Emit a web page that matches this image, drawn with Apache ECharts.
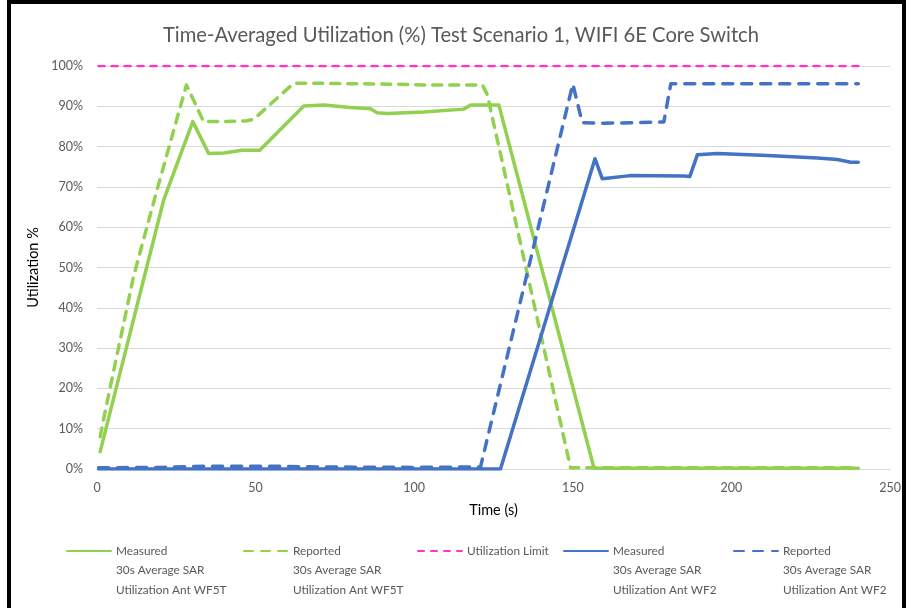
<!DOCTYPE html>
<html>
<head>
<meta charset="utf-8">
<script src="https://cdn.jsdelivr.net/npm/echarts@6/dist/echarts.min.js"></script>
<style>
html,body{margin:0;padding:0;background:#fff;}
#chart{position:absolute;left:0;top:0;width:906px;height:608px;}
#frame{position:absolute;left:7px;top:0;width:899px;height:700px;border:4px solid #000;box-sizing:border-box;pointer-events:none;}
</style>
</head>
<body>
<div id="chart"></div>
<div id="frame"></div>
<script>
// ---- data ----
const xTicks = [0, 50, 100, 150, 200, 250];
const yTicks = [0, 10, 20, 30, 40, 50, 60, 70, 80, 90, 100];

const seriesNames = [
  'Measured\n30s Average SAR\nUtilization Ant WF5T',
  'Reported\n30s Average SAR\nUtilization Ant WF5T',
  'Utilization Limit',
  'Measured\n30s Average SAR\nUtilization Ant WF2',
  'Reported\n30s Average SAR\nUtilization Ant WF2'
];

const wf5tMeasuredT = [1, 21, 30.2, 35.2, 40, 45.7, 51.3, 65.2, 71.5, 79.9, 86.2, 88.3, 91.5, 103, 115.6, 117.8, 126.7, 127.2, 156.7, 170, 200, 240];
const wf5tMeasuredV = [4.3, 66.7, 86.2, 78.3, 78.4, 79.1, 79.1, 90.1, 90.3, 89.7, 89.4, 88.4, 88.2, 88.6, 89.3, 90.3, 90.3, 90.2, 0.2, 0.2, 0.2, 0.2];

const wf5tReportedT = [1, 2.5, 11.5, 18.9, 28.2, 33.6, 40, 47.3, 49.4, 62, 70, 82, 92, 103, 121.5, 123, 149.3, 170, 200, 240];
const wf5tReportedV = [8, 14, 47.7, 69.2, 95.3, 86.2, 86.2, 86.4, 86.8, 95.7, 95.7, 95.6, 95.5, 95.3, 95.3, 93, 0.3, 0.3, 0.3, 0.3];

const limitT = [0.5, 240];
const limitV = [100, 100];

const wf2MeasuredT = [0.5, 127.2, 157, 159.3, 168.1, 185, 186.9, 189.3, 195.6, 211.4, 227.1, 233.4, 237.6, 240];
const wf2MeasuredV = [0, 0, 77, 72, 72.8, 72.7, 72.6, 78, 78.3, 77.8, 77.2, 76.8, 76.1, 76.1];

const wf2ReportedT = [0.5, 20, 35, 55, 70, 100, 120.9, 150, 153, 160, 178.7, 180.9, 200, 240];
const wf2ReportedV = [0.3, 0.4, 0.7, 0.7, 0.5, 0.4, 0.5, 95.5, 85.9, 85.8, 86.1, 95.6, 95.6, 95.6];

// ---- build ----
const zip = (t, v) => t.map((x, i) => [x, v[i]]);
const FONT = 'Lato, "Liberation Sans", sans-serif';
const GREEN = '#92D050', BLUE = '#4472C4', PINK = '#FF33CC';

const seriesDefs = [
  {data: zip(wf5tMeasuredT, wf5tMeasuredV), color: GREEN, type: 'solid', width: 3.5},
  {data: zip(wf5tReportedT, wf5tReportedV), color: GREEN, type: [9, 8], width: 3.5},
  {data: zip(limitT, limitV), color: PINK, type: [6, 7], width: 2.5},
  {data: zip(wf2MeasuredT, wf2MeasuredV), color: BLUE, type: 'solid', width: 3.5},
  {data: zip(wf2ReportedT, wf2ReportedV), color: BLUE, type: [10, 9], width: 3.5}
];

const legendLeft = [66, 243, 417, 563, 733];
const LH = 19.5;
const legends = seriesNames.map((n, i) => {
  const multi = n.indexOf('\n') >= 0;
  return {
    data: [n],
    formatter: multi ? (nm => '\n\n' + nm) : (nm => nm),
    left: legendLeft[i],
    top: multi ? 551 - LH * 2.5 : 551 - LH / 2,
    padding: 0,
    itemWidth: 44,
    itemHeight: 10,
    itemGap: 0,
    itemStyle: {opacity: 0},
    textStyle: {fontFamily: FONT, fontSize: 11.8, color: '#595959', lineHeight: LH},
    selectedMode: false
  };
});

const chart = echarts.init(document.getElementById('chart'), null, {renderer: 'canvas'});
chart.setOption({
  backgroundColor: '#fff',
  animation: false,
  title: {
    text: 'Time-Averaged Utilization (%) Test Scenario 1, WIFI 6E Core Switch',
    left: 158,
    top: 20,
    textStyle: {fontFamily: FONT, fontSize: 20.2, fontWeight: 'normal', color: '#595959'}
  },
  legend: legends,
  grid: {left: 97, right: 16, top: 66, bottom: 139, containLabel: false},
  xAxis: {
    type: 'value',
    min: xTicks[0], max: xTicks[xTicks.length - 1], interval: xTicks[1] - xTicks[0],
    name: 'Time (s)', nameLocation: 'middle', nameGap: 34,
    nameTextStyle: {fontFamily: FONT, fontSize: 14.5, color: '#000'},
    axisLine: {show: true, lineStyle: {color: '#D9D9D9', width: 1}},
    axisTick: {show: false},
    axisLabel: {fontFamily: FONT, fontSize: 12.5, color: '#595959', margin: 12},
    splitLine: {show: false}
  },
  yAxis: {
    type: 'value',
    min: yTicks[0], max: yTicks[yTicks.length - 1], interval: yTicks[1] - yTicks[0],
    name: 'Utilization %', nameLocation: 'middle', nameGap: 46, nameRotate: 90,
    nameTextStyle: {fontFamily: FONT, fontSize: 14.5, color: '#000'},
    axisLine: {show: false},
    axisTick: {show: false},
    axisLabel: {fontFamily: FONT, fontSize: 12.5, color: '#595959', margin: 14, formatter: '{value}%'},
    splitLine: {show: true, lineStyle: {color: '#D9D9D9', width: 1}}
  },
  series: seriesDefs.map((s, i) => ({
    name: seriesNames[i],
    type: 'line',
    data: s.data,
    symbol: 'none',
    smooth: false,
    color: s.color,
    lineStyle: {color: s.color, width: s.width, type: s.type, cap: 'round', join: 'round'}
  }))
});
</script>
</body>
</html>
